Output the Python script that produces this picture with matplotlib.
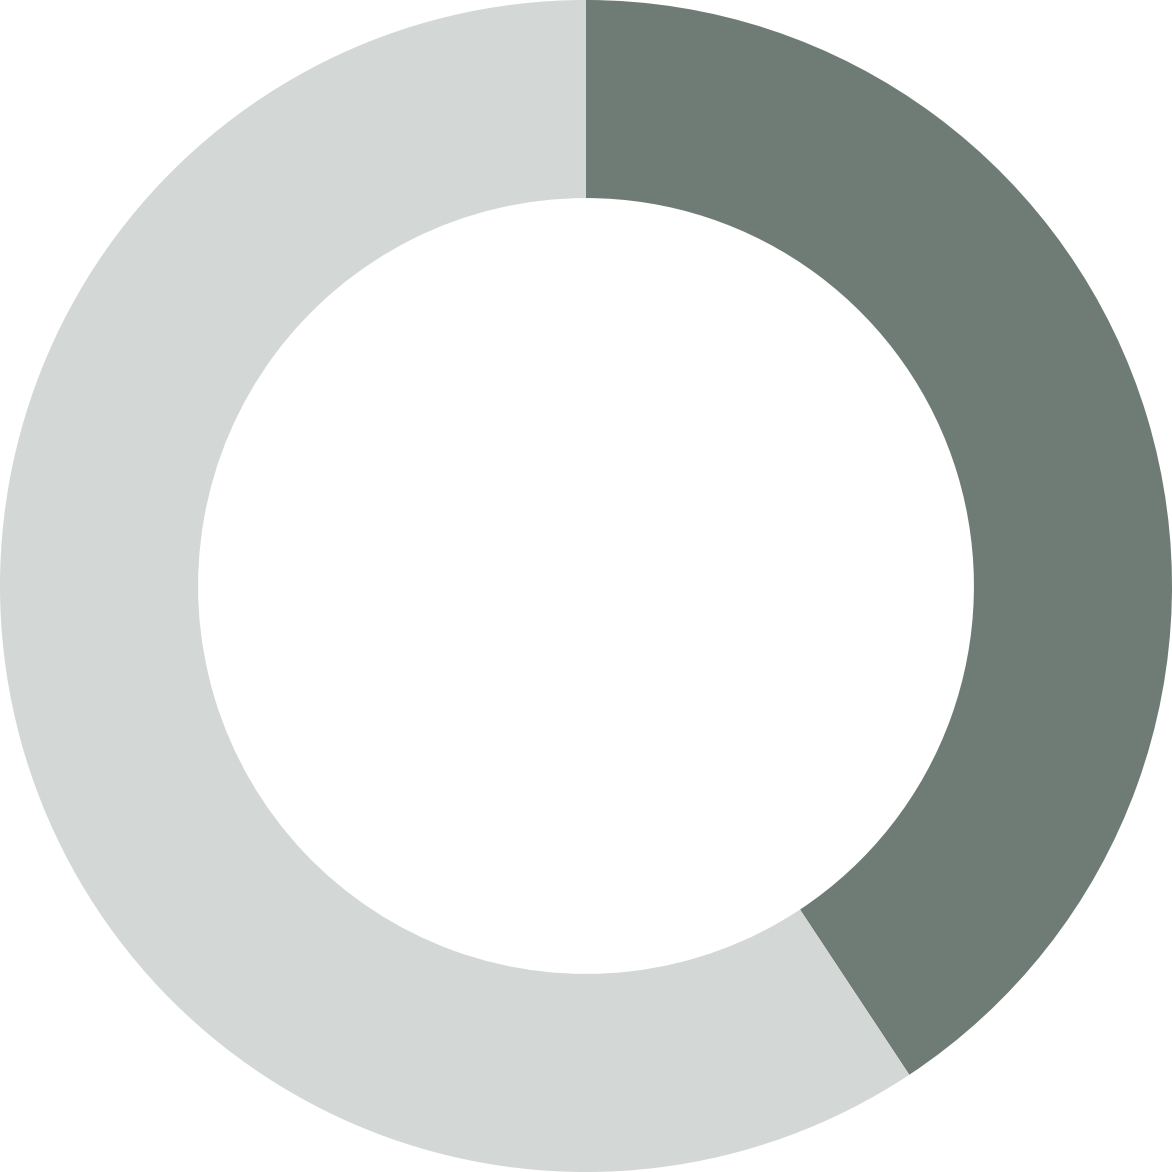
import matplotlib
matplotlib.use('Agg')
import matplotlib.pyplot as plt

labels = ['Share', 'Rest']
values = [40.7, 59.3]
colors = ['#6f7c76', '#d3d7d5']

fig = plt.figure(figsize=(11.72, 11.72), dpi=100)
ax = fig.add_axes([0, 0, 1, 1])
ax.pie(values, colors=colors, startangle=90, counterclock=False,
       radius=1.0, wedgeprops=dict(width=0.338, linewidth=0))
ax.set_xlim(-1.0, 1.0)
ax.set_ylim(-1.0, 1.0)
ax.set_aspect('equal')
ax.axis('off')
fig.savefig('out.png', dpi=100, facecolor='white')
